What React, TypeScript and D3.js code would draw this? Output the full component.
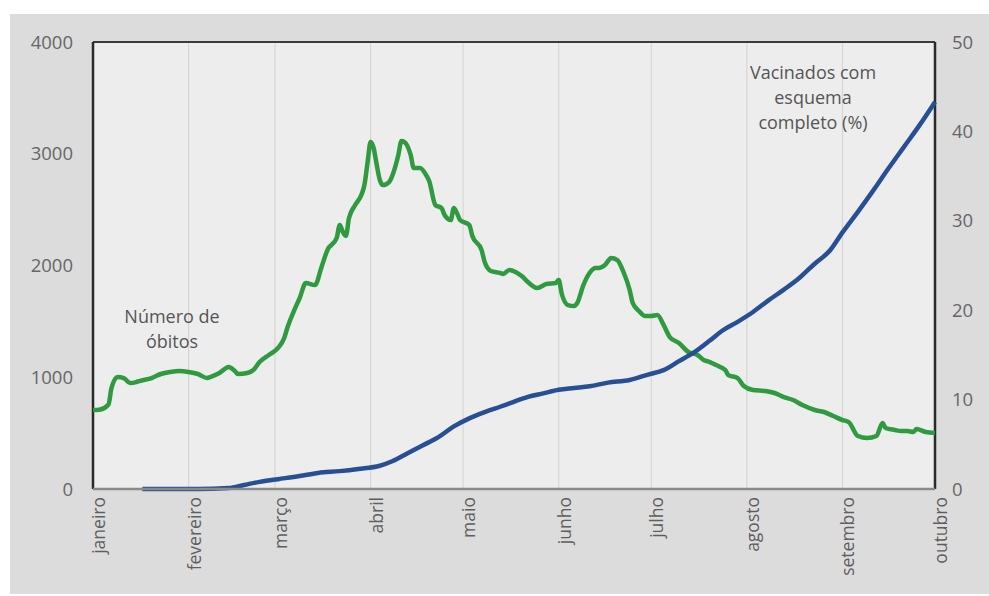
import { useEffect, useRef } from "react";
import * as d3 from "d3";

// número de óbitos (média móvel), eixo esquerdo
const obitosDatas = [
  "2021-01-01", "2021-01-03", "2021-01-06", "2021-01-07", "2021-01-09", "2021-01-11",
  "2021-01-13", "2021-01-15", "2021-01-16", "2021-01-20", "2021-01-23", "2021-01-26",
  "2021-01-29", "2021-02-01", "2021-02-04", "2021-02-07", "2021-02-08", "2021-02-11",
  "2021-02-14", "2021-02-16", "2021-02-17", "2021-02-20", "2021-02-22", "2021-02-24",
  "2021-02-27", "2021-03-02", "2021-03-04", "2021-03-05", "2021-03-07", "2021-03-09",
  "2021-03-11", "2021-03-14", "2021-03-16", "2021-03-18", "2021-03-21", "2021-03-22",
  "2021-03-23", "2021-03-24", "2021-03-25", "2021-03-27", "2021-03-29", "2021-03-30",
  "2021-03-31", "2021-04-01", "2021-04-02", "2021-04-03", "2021-04-04", "2021-04-05",
  "2021-04-07", "2021-04-08", "2021-04-10", "2021-04-11", "2021-04-12", "2021-04-14",
  "2021-04-15", "2021-04-17", "2021-04-19", "2021-04-20", "2021-04-22", "2021-04-24",
  "2021-04-25", "2021-04-27", "2021-04-28", "2021-04-29", "2021-04-30", "2021-05-03",
  "2021-05-04", "2021-05-07", "2021-05-08", "2021-05-10", "2021-05-13", "2021-05-14",
  "2021-05-16", "2021-05-18", "2021-05-20", "2021-05-22", "2021-05-25", "2021-05-28",
  "2021-05-31", "2021-06-01", "2021-06-02", "2021-06-04", "2021-06-06", "2021-06-07",
  "2021-06-09", "2021-06-11", "2021-06-13", "2021-06-14", "2021-06-16", "2021-06-18",
  "2021-06-20", "2021-06-22", "2021-06-24", "2021-06-25", "2021-06-27", "2021-06-29",
  "2021-07-01", "2021-07-03", "2021-07-05", "2021-07-07", "2021-07-10", "2021-07-13",
  "2021-07-16", "2021-07-18", "2021-07-20", "2021-07-22", "2021-07-25", "2021-07-26",
  "2021-07-29", "2021-07-31", "2021-08-03", "2021-08-07", "2021-08-10", "2021-08-13",
  "2021-08-16", "2021-08-19", "2021-08-23", "2021-08-26", "2021-08-29", "2021-09-01",
  "2021-09-03", "2021-09-06", "2021-09-09", "2021-09-12", "2021-09-14", "2021-09-15",
  "2021-09-18", "2021-09-20", "2021-09-22", "2021-09-24", "2021-09-25", "2021-09-28",
  "2021-10-01",
];
const obitosValores = [
  707, 710, 755, 904, 1002, 993,
  948, 957, 966, 993, 1029, 1047,
  1056, 1047, 1029, 993, 1002, 1038,
  1092, 1056, 1029, 1038, 1065, 1136,
  1199, 1262, 1351, 1440, 1583, 1709,
  1843, 1825, 1978, 2138, 2246, 2362,
  2300, 2264, 2425, 2541, 2631, 2720,
  2917, 3105, 3051, 2899, 2765, 2720,
  2747, 2801, 2989, 3114, 3105, 2989,
  2872, 2872, 2810, 2756, 2541, 2514,
  2452, 2407, 2515, 2470, 2407, 2362,
  2264, 2138, 2031, 1951, 1933, 1924,
  1960, 1942, 1906, 1852, 1799, 1834,
  1843, 1870, 1745, 1646, 1637, 1664,
  1825, 1933, 1978, 1978, 2004, 2067,
  2049, 1942, 1781, 1664, 1593, 1548,
  1548, 1557, 1468, 1360, 1306, 1226,
  1199, 1154, 1136, 1109, 1065, 1020,
  993, 922, 886, 877, 859, 823,
  796, 751, 707, 689, 653, 617,
  599, 474, 456, 474, 590, 546,
  528, 519, 519, 510, 537, 510,
  501,
];

// vacinados com esquema completo (%), eixo direito
const vacinaDatas = [
  "2021-01-17", "2021-02-04", "2021-02-14", "2021-02-19", "2021-02-24", "2021-03-02",
  "2021-03-09", "2021-03-15", "2021-03-22", "2021-03-28", "2021-04-04", "2021-04-08",
  "2021-04-13", "2021-04-18", "2021-04-23", "2021-04-28", "2021-05-03", "2021-05-08",
  "2021-05-13", "2021-05-17", "2021-05-22", "2021-05-27", "2021-06-01", "2021-06-06",
  "2021-06-11", "2021-06-17", "2021-06-24", "2021-06-30", "2021-07-05", "2021-07-10",
  "2021-07-15", "2021-07-20", "2021-07-24", "2021-07-29", "2021-08-03", "2021-08-08",
  "2021-08-13", "2021-08-18", "2021-08-23", "2021-08-28", "2021-09-01", "2021-09-06",
  "2021-09-11", "2021-09-16", "2021-09-21", "2021-09-26", "2021-10-01",
];
const vacinaValores = [
  0, 0, 0.1, 0.45, 0.8, 1.1,
  1.45, 1.8, 2.0, 2.24, 2.6, 3.1,
  4.0, 4.9, 5.8, 7.0, 7.9, 8.6,
  9.2, 9.7, 10.3, 10.7, 11.1, 11.3,
  11.5, 11.9, 12.2, 12.8, 13.3, 14.3,
  15.3, 16.6, 17.7, 18.7, 19.8, 21.1,
  22.3, 23.6, 25.2, 26.7, 28.7, 31.0,
  33.4, 35.9, 38.3, 40.7, 43.3,
];

const meses = [
  "janeiro", "fevereiro", "março", "abril", "maio",
  "junho", "julho", "agosto", "setembro", "outubro",
];
const ticksEsq = [0, 1000, 2000, 3000, 4000];
const ticksDir = [0, 10, 20, 30, 40, 50];

const W = 989;
const H = 596;
const FONT = "'Open Sans', sans-serif";

export default function App() {
  const ref = useRef<SVGSVGElement | null>(null);

  useEffect(() => {
    const svg = d3.select(ref.current);
    svg.selectAll("*").remove();

    const left = 93, right = 935, top = 42, bottom = 489;
    const parse = d3.timeParse("%Y-%m-%d");

    const x = d3
      .scaleTime()
      .domain([new Date(2021, 0, 1), new Date(2021, 9, 1)])
      .range([left, right]);
    const yL = d3.scaleLinear().domain([0, 4000]).range([bottom, top]);
    const yR = d3.scaleLinear().domain([0, 50]).range([bottom, top]);

    // fundos
    svg.append("rect").attr("width", W).attr("height", H).attr("fill", "#ffffff");
    svg.append("rect").attr("x", 10).attr("y", 14).attr("width", W - 10).attr("height", 580).attr("fill", "#dcdcdc");
    svg.append("rect").attr("x", left).attr("y", top).attr("width", right - left).attr("height", bottom - top).attr("fill", "#ededed");

    const mesDatas = meses.map((_, i) => new Date(2021, i, 1));

    // linhas de grade verticais
    svg
      .append("g")
      .selectAll("line")
      .data(mesDatas.slice(1, -1))
      .enter()
      .append("line")
      .attr("x1", (d) => x(d))
      .attr("x2", (d) => x(d))
      .attr("y1", top)
      .attr("y2", bottom)
      .attr("stroke", "#d6d6d6")
      .attr("stroke-width", 1.2);

    // bordas
    svg.append("line").attr("x1", left).attr("x2", right).attr("y1", top).attr("y2", top).attr("stroke", "#3a3a3a").attr("stroke-width", 2);
    svg.append("line").attr("x1", left).attr("x2", left).attr("y1", top).attr("y2", bottom).attr("stroke", "#2a2a2a").attr("stroke-width", 2.5);
    svg.append("line").attr("x1", right).attr("x2", right).attr("y1", top).attr("y2", bottom).attr("stroke", "#2a2a2a").attr("stroke-width", 2.5);

    // linhas de dados
    const obitos = obitosDatas.map((d, i) => ({ date: parse(d) as Date, v: obitosValores[i] }));
    const vacina = vacinaDatas.map((d, i) => ({ date: parse(d) as Date, v: vacinaValores[i] }));

    const lineL = d3
      .line<{ date: Date; v: number }>()
      .x((d) => x(d.date))
      .y((d) => yL(d.v))
      .curve(d3.curveMonotoneX);
    const lineR = d3
      .line<{ date: Date; v: number }>()
      .x((d) => x(d.date))
      .y((d) => yR(d.v))
      .curve(d3.curveMonotoneX);

    svg.append("path").datum(obitos).attr("d", lineL).attr("fill", "none")
      .attr("stroke", "#2f9a3f").attr("stroke-width", 4.5).attr("stroke-linejoin", "round");
    svg.append("path").datum(vacina).attr("d", lineR).attr("fill", "none")
      .attr("stroke", "#284f93").attr("stroke-width", 4.5).attr("stroke-linejoin", "round");

    // eixo x
    svg.append("line").attr("x1", left).attr("x2", right).attr("y1", bottom).attr("y2", bottom).attr("stroke", "#8a8a8a").attr("stroke-width", 2.5);

    svg
      .append("g")
      .selectAll("text")
      .data(mesDatas)
      .enter()
      .append("text")
      .attr("transform", (d) => `translate(${x(d) + 12},${bottom + 8}) rotate(-90)`)
      .attr("text-anchor", "end")
      .attr("font-family", FONT)
      .attr("font-size", 17.5)
      .attr("fill", "#5e5e5e")
      .text((_, i) => meses[i]);

    // eixos y
    svg
      .append("g")
      .selectAll("text")
      .data(ticksEsq)
      .enter()
      .append("text")
      .attr("x", 73)
      .attr("y", (d) => yL(d) + 6.5)
      .attr("text-anchor", "end")
      .attr("font-family", FONT)
      .attr("font-size", 18.5)
      .attr("fill", "#666666")
      .text((d) => String(d));

    svg
      .append("g")
      .selectAll("text")
      .data(ticksDir)
      .enter()
      .append("text")
      .attr("x", 952)
      .attr("y", (d) => yR(d) + 6.5)
      .attr("text-anchor", "start")
      .attr("font-family", FONT)
      .attr("font-size", 18.5)
      .attr("fill", "#666666")
      .text((d) => String(d));

    // anotações (entrelinha maior que a caixa da fonte)
    const nota = (linhas: string[], cx: number, y0: number) => {
      linhas.forEach((l, i) => {
        svg
          .append("text")
          .attr("x", cx)
          .attr("y", y0 + i * 24.8)
          .attr("text-anchor", "middle")
          .attr("font-family", FONT)
          .attr("font-size", 18)
          .attr("fill", "#555555")
          .text(l);
      });
    };
    nota(["Número de", "óbitos"], 172, 323);
    nota(["Vacinados com", "esquema", "completo  (%)"], 813, 79);
  }, []);

  return (
    <svg
      ref={ref}
      width={W}
      height={H}
      style={{ position: "absolute", left: 0, top: 0 }}
    />
  );
}
